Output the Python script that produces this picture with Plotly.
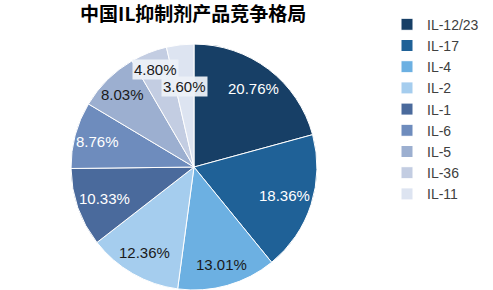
import math
import plotly.graph_objects as go

labels = ["IL-12/23", "IL-17", "IL-4", "IL-2", "IL-1", "IL-6", "IL-5", "IL-36", "IL-11"]
values = [20.76, 18.36, 13.01, 12.36, 10.33, 8.76, 8.03, 4.80, 3.60]
colors = ["#173f66", "#1f6197", "#6cb0e2", "#a5cdee", "#4a6a9c", "#6e8cbd", "#9cafd0", "#c3cde2", "#dde4f1"]
text_colors = ["white", "white", "#1a1a1a", "#1a1a1a", "white", "white", "#1a1a1a", "#1a1a1a", "#1a1a1a"]
label_bg = [None, None, None, None, None, None, None, "rgba(236,240,247,0.95)", "rgba(236,240,247,0.95)"]
label_radius = [0.80, 0.77, 0.82, 0.80, 0.77, 0.81, 0.83, 0.85, 0.66]
title = "中国IL抑制剂产品竞争格局"

W, H = 493, 290
dom_x = [0.144, 0.643]
dom_y = [0.0, 0.848]

fig = go.Figure(go.Pie(
    labels=labels,
    values=values,
    sort=False,
    direction="clockwise",
    rotation=0,
    marker=dict(colors=colors, line=dict(color="white", width=1)),
    textinfo="none",
    hoverinfo="label+value",
    domain=dict(x=dom_x, y=dom_y),
))

# data labels placed at the middle angle of each slice
cx = (dom_x[0] + dom_x[1]) / 2 * W
cy = (dom_y[0] + dom_y[1]) / 2 * H
R = min((dom_x[1] - dom_x[0]) * W, (dom_y[1] - dom_y[0]) * H) / 2
total = sum(values)
cum = 0.0
annotations = []
for v, tc, bg, rf in zip(values, text_colors, label_bg, label_radius):
    mid = (cum + v / 2) / total * 2 * math.pi
    cum += v
    px = cx + R * rf * math.sin(mid)
    py = cy + R * rf * math.cos(mid)
    ann = dict(x=px / W, y=py / H, xref="paper", yref="paper", showarrow=False,
               text=f"{v:.2f}%", xanchor="center", yanchor="middle",
               font=dict(family="Liberation Sans, Arial", size=15, color=tc))
    if bg:
        ann.update(bgcolor=bg, borderpad=1)
    annotations.append(ann)

fig.update_layout(
    width=W, height=H,
    margin=dict(l=0, r=0, t=0, b=0),
    paper_bgcolor="white", plot_bgcolor="white",
    title=dict(text=f"<b>{title}</b>", x=0.392, xanchor="center", y=0.95, yanchor="middle",
               font=dict(family="Noto Sans CJK SC", size=19, color="black")),
    legend=dict(x=0.785, y=0.97, xanchor="left", yanchor="top",
                font=dict(family="Liberation Sans, Arial", size=14, color="#404040"),
                traceorder="normal", itemwidth=30),
    annotations=annotations,
)

fig.write_html("out.html")
